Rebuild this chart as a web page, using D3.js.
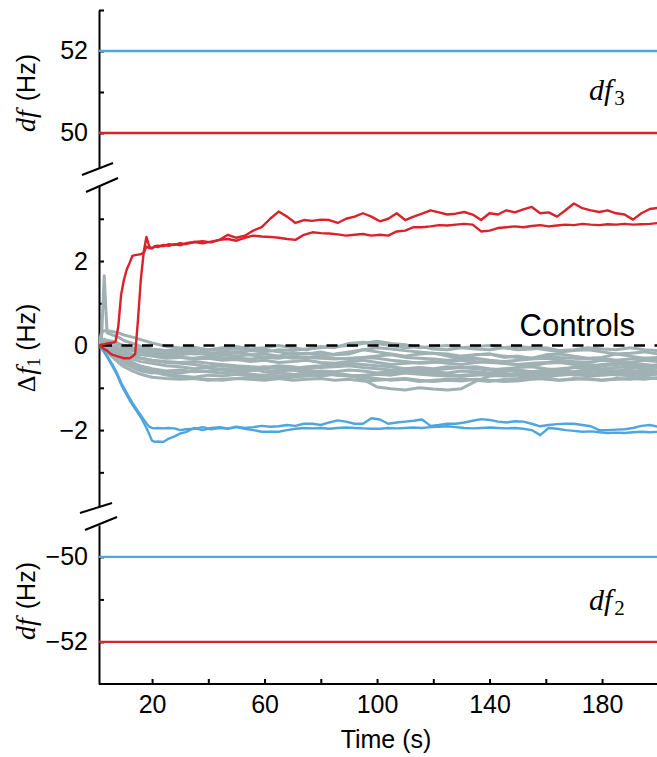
<!DOCTYPE html>
<html>
<head>
<meta charset="utf-8">
<script src="https://cdn.jsdelivr.net/npm/d3@7"></script>
<style>
  html, body { margin: 0; padding: 0; background: #fff; }
  svg { display: block; }
  .axis text { font-family: "Liberation Sans", Arial, Helvetica, sans-serif; font-size: 25px; fill: #000; }
  .axis path, .axis line { stroke: #000; stroke-width: 2; }
</style>
</head>
<body>
<svg id="chart" width="657" height="757"></svg>
<script>
// Time samples (s) for the shifted-frequency traces
const tShift = [1,2,3,4,5,6,7,8,9,10,11,12,13,14,15,16,17,18,19,20,21,22,
  24,26,28,30,32,
  35,38,41,44,47,50,53,56,59,62,65,68,71,74,77,80,83,86,89,92,95,98,101,104,107,110,
  113,116,119,122,125,128,131,134,137,140,143,146,149,152,155,158,161,164,167,170,
  173,176,179,182,185,188,191,194,197,200];

// Δf1 traces, red = df3-shifted, blue = df2-shifted
const redA = [0.0,0.02,0.03,0.05,0.06,0.07,0.09,0.45,1.2,1.55,1.8,1.95,2.12,2.14,2.15,2.16,2.2,2.57,2.35,2.3,2.35,2.36,
  2.35,2.4,2.38,2.42,2.4,
  2.45,2.47,2.44,2.5,2.62,2.55,2.6,2.72,2.8,3.0,
  3.17,3.05,2.9,2.97,2.95,2.98,2.97,2.9,3.0,3.05,
  3.13,3.05,2.94,3.0,3.13,2.97,3.05,3.12,3.2,3.15,
  3.1,3.12,3.16,3.1,2.97,3.13,3.1,3.2,3.15,3.22,
  3.28,3.13,3.15,3.05,3.2,3.36,3.25,3.2,3.16,3.2,
  3.13,3.1,2.98,3.13,3.23,3.26];
const redB = [0.0,-0.04,-0.08,-0.12,-0.18,-0.22,-0.24,-0.26,-0.28,-0.3,-0.3,-0.3,-0.26,-0.2,0.6,1.55,2.18,2.34,2.3,2.3,2.35,2.33,
  2.38,2.36,2.4,2.37,2.42,
  2.45,2.42,2.46,2.5,2.52,2.48,2.55,2.6,2.58,2.57,
  2.55,2.52,2.5,2.62,2.68,2.66,2.65,2.63,2.6,2.62,
  2.64,2.6,2.62,2.6,2.7,2.72,2.8,2.8,2.82,2.85,
  2.84,2.86,2.88,2.86,2.7,2.72,2.78,2.8,2.82,2.8,
  2.83,2.85,2.82,2.84,2.86,2.85,2.88,2.86,2.85,2.87,
  2.86,2.88,2.86,2.87,2.88,2.9];
const blueA = [0.0,-0.06,-0.14,-0.24,-0.35,-0.46,-0.58,-0.72,-0.88,-1.0,-1.12,-1.24,-1.35,-1.45,-1.55,-1.65,-1.75,-1.84,-1.92,-1.95,-1.96,-1.95,
  -1.96,-1.95,-1.96,-2.0,-1.98,
  -1.97,-1.93,-1.98,-1.95,-1.97,-1.93,-1.97,-2.0,-2.04,-2.04,
  -2.04,-2.0,-1.97,-1.95,-1.96,-1.95,-1.97,-1.95,-1.94,-1.95,
  -1.96,-1.97,-1.97,-1.95,-1.96,-1.95,-1.94,-1.95,-1.93,-1.92,
  -1.91,-1.93,-1.95,-1.96,-1.95,-1.94,-1.95,-1.96,-1.95,-1.97,
  -2.0,-2.12,-1.95,-1.97,-2.0,-2.02,-2.04,-2.03,-2.05,-2.07,
  -2.06,-2.07,-2.05,-2.04,-2.05,-2.04];
const blueB = [0.0,-0.07,-0.16,-0.27,-0.38,-0.5,-0.62,-0.76,-0.92,-1.05,-1.17,-1.29,-1.4,-1.5,-1.6,-1.7,-1.82,-1.95,-2.1,-2.25,-2.28,-2.27,
  -2.28,-2.2,-2.15,-2.08,-2.05,
  -1.95,-2.0,-1.95,-1.93,-1.96,-1.92,-1.95,-1.93,-1.9,-1.92,
  -1.91,-1.88,-1.9,-1.85,-1.85,-1.88,-1.82,-1.77,-1.8,-1.85,
  -1.85,-1.72,-1.75,-1.85,-1.82,-1.8,-1.78,-1.75,-1.9,-1.88,
  -1.85,-1.85,-1.82,-1.78,-1.74,-1.76,-1.8,-1.82,-1.79,-1.8,
  -1.85,-1.91,-1.88,-1.86,-1.85,-1.85,-1.88,-1.91,-2.0,-2.0,
  -1.99,-1.98,-1.95,-1.9,-1.88,-1.92];

// Time samples (s) for the control traces
const tCtrl = [1,2,3,4,6,8,10,13,16,20,
  25,30,35,40,45,50,55,60,65,70,75,80,85,90,95,100,105,110,115,120,
  125,130,135,140,145,150,155,160,165,170,175,180,185,190,195,200];

const ctrl01 = [0,0.1,1.65,0.3,0.25,0.2,0.12,0.05,-0.02,-0.08,
  -0.12,-0.15,-0.1,-0.18,-0.2,-0.15,-0.22,-0.2,-0.25,-0.18,
  -0.2,-0.15,-0.22,-0.2,-0.1,-0.15,-0.2,-0.25,-0.2,-0.18,
  -0.25,-0.3,-0.22,-0.2,-0.28,-0.25,-0.3,-0.22,-0.2,-0.25,
  -0.3,-0.28,-0.2,-0.25,-0.3,-0.28];
const ctrl02 = [0,0.3,0.35,0.35,0.33,0.3,0.25,0.2,0.14,0.06,
  -0.02,-0.06,-0.04,-0.1,-0.05,-0.02,-0.08,-0.05,0.0,-0.05,
  -0.1,-0.02,-0.05,0.05,0.08,0.05,0.0,-0.05,-0.02,-0.08,
  -0.1,-0.05,-0.02,0.0,-0.05,-0.1,-0.08,-0.05,-0.12,-0.1,
  -0.05,-0.08,-0.1,-0.05,-0.1,-0.12];
const ctrl03 = [0,0.0,-0.02,-0.05,-0.1,-0.12,-0.15,-0.2,-0.22,-0.25,
  -0.3,-0.28,-0.32,-0.3,-0.35,-0.33,-0.38,-0.35,-0.4,-0.38,
  -0.35,-0.4,-0.42,-0.38,-0.35,-0.4,-0.45,-0.42,-0.4,-0.38,
  -0.42,-0.45,-0.4,-0.38,-0.42,-0.45,-0.48,-0.42,-0.4,-0.45,
  -0.5,-0.45,-0.42,-0.48,-0.5,-0.45];
const ctrl04 = [0,-0.02,-0.05,-0.08,-0.15,-0.2,-0.25,-0.32,-0.38,-0.42,
  -0.48,-0.5,-0.55,-0.52,-0.58,-0.6,-0.55,-0.62,-0.6,-0.58,
  -0.65,-0.6,-0.62,-0.58,-0.6,-0.65,-0.62,-0.6,-0.58,-0.62,
  -0.65,-0.6,-0.62,-0.65,-0.6,-0.58,-0.62,-0.65,-0.6,-0.62,
  -0.58,-0.6,-0.65,-0.62,-0.6,-0.62];
const ctrl05 = [0,-0.03,-0.08,-0.15,-0.28,-0.4,-0.5,-0.6,-0.68,-0.75,
  -0.78,-0.8,-0.78,-0.82,-0.8,-0.78,-0.75,-0.8,-0.78,-0.82,
  -0.8,-0.78,-0.82,-0.8,-0.84,-0.82,-0.8,-0.78,-0.82,-0.85,
  -0.82,-0.84,-0.8,-0.82,-0.85,-0.84,-0.8,-0.78,-0.82,-0.8,
  -0.78,-0.82,-0.8,-0.78,-0.8,-0.76];
const ctrl06 = [0,-0.02,-0.04,-0.06,-0.1,-0.15,-0.2,-0.25,-0.3,-0.35,
  -0.4,-0.42,-0.45,-0.5,-0.48,-0.52,-0.55,-0.5,-0.55,-0.58,
  -0.6,-0.62,-0.65,-0.7,-0.8,-0.98,-1.02,-1.05,-1.0,-1.03,
  -1.05,-1.02,-0.85,-0.72,-0.7,-0.65,-0.68,-0.62,-0.6,-0.65,
  -0.62,-0.58,-0.6,-0.62,-0.58,-0.6];
const ctrl07 = [0,0.02,0.0,-0.02,-0.05,-0.08,-0.1,-0.12,-0.15,-0.18,
  -0.2,-0.22,-0.18,-0.2,-0.15,-0.18,-0.12,-0.15,-0.1,-0.12,
  -0.08,-0.05,-0.02,0.0,0.05,0.1,0.05,0.02,-0.05,-0.02,
  0.0,-0.05,-0.08,-0.1,-0.05,-0.02,-0.05,-0.1,-0.15,-0.12,
  -0.1,-0.15,-0.2,-0.18,-0.15,-0.2];
const ctrl08 = [0,-0.01,-0.03,-0.05,-0.08,-0.12,-0.18,-0.25,-0.3,-0.35,
  -0.38,-0.4,-0.38,-0.42,-0.45,-0.48,-0.5,-0.52,-0.48,-0.5,
  -0.55,-0.52,-0.5,-0.48,-0.52,-0.55,-0.58,-0.55,-0.52,-0.55,
  -0.5,-0.52,-0.55,-0.58,-0.55,-0.52,-0.5,-0.55,-0.58,-0.52,
  -0.5,-0.55,-0.52,-0.5,-0.55,-0.52];
const ctrl09 = [0,0.05,0.08,0.05,0.0,-0.05,-0.08,-0.12,-0.15,-0.2,
  -0.25,-0.28,-0.3,-0.25,-0.28,-0.3,-0.32,-0.28,-0.3,-0.25,
  -0.28,-0.3,-0.32,-0.3,-0.28,-0.25,-0.22,-0.28,-0.3,-0.32,
  -0.35,-0.32,-0.3,-0.35,-0.38,-0.35,-0.32,-0.3,-0.35,-0.38,
  -0.4,-0.35,-0.38,-0.4,-0.35,-0.38];
const ctrl10 = [0,-0.02,-0.06,-0.12,-0.22,-0.32,-0.42,-0.52,-0.6,-0.65,
  -0.62,-0.65,-0.6,-0.62,-0.65,-0.62,-0.68,-0.7,-0.65,-0.68,
  -0.7,-0.72,-0.68,-0.7,-0.72,-0.68,-0.7,-0.65,-0.68,-0.7,
  -0.72,-0.7,-0.68,-0.7,-0.72,-0.7,-0.68,-0.7,-0.65,-0.7,
  -0.68,-0.65,-0.7,-0.68,-0.65,-0.62];
const ctrl11 = [0,0.1,0.15,0.12,0.08,0.02,-0.02,-0.08,-0.12,-0.15,
  -0.18,-0.15,-0.2,-0.18,-0.22,-0.25,-0.22,-0.28,-0.25,-0.3,
  -0.28,-0.25,-0.3,-0.32,-0.28,-0.3,-0.35,-0.38,-0.42,-0.4,
  -0.38,-0.35,-0.38,-0.4,-0.42,-0.45,-0.42,-0.4,-0.38,-0.42,
  -0.45,-0.48,-0.45,-0.42,-0.45,-0.48];
const ctrl12 = [0,-0.03,-0.08,-0.12,-0.2,-0.28,-0.35,-0.42,-0.48,-0.55,
  -0.6,-0.58,-0.62,-0.6,-0.55,-0.58,-0.6,-0.55,-0.52,-0.55,
  -0.5,-0.48,-0.45,-0.42,-0.45,-0.48,-0.5,-0.55,-0.6,-0.58,
  -0.55,-0.52,-0.5,-0.55,-0.58,-0.6,-0.62,-0.58,-0.55,-0.52,
  -0.55,-0.58,-0.6,-0.55,-0.5,-0.52];
const ctrl13 = [0,-0.02,-0.04,-0.08,-0.15,-0.22,-0.3,-0.4,-0.5,-0.6,
  -0.68,-0.72,-0.75,-0.7,-0.72,-0.68,-0.7,-0.75,-0.72,-0.7,
  -0.68,-0.65,-0.7,-0.72,-0.75,-0.78,-0.82,-0.8,-0.85,-0.82,
  -0.8,-0.78,-0.82,-0.85,-0.8,-0.78,-0.75,-0.8,-0.82,-0.78,
  -0.8,-0.82,-0.78,-0.8,-0.75,-0.78];
const ctrl14 = [0,0.05,0.1,0.12,0.1,0.05,0.0,-0.05,-0.08,-0.1,
  -0.12,-0.1,-0.15,-0.12,-0.1,-0.08,-0.12,-0.1,-0.15,-0.2,
  -0.18,-0.22,-0.2,-0.15,-0.1,-0.05,-0.08,-0.12,-0.15,-0.18,
  -0.2,-0.25,-0.22,-0.2,-0.25,-0.28,-0.3,-0.25,-0.28,-0.3,
  -0.32,-0.3,-0.35,-0.32,-0.3,-0.35];
const ctrl15 = [0,-0.01,-0.05,-0.1,-0.18,-0.28,-0.38,-0.48,-0.55,-0.62,
  -0.7,-0.75,-0.78,-0.8,-0.82,-0.78,-0.8,-0.82,-0.78,-0.75,
  -0.72,-0.7,-0.68,-0.72,-0.7,-0.68,-0.65,-0.6,-0.62,-0.65,
  -0.68,-0.72,-0.7,-0.68,-0.65,-0.7,-0.72,-0.75,-0.7,-0.68,
  -0.72,-0.7,-0.68,-0.72,-0.7,-0.68];
const controls = [ctrl01,ctrl02,ctrl03,ctrl04,ctrl05,ctrl06,ctrl07,ctrl08,
  ctrl09,ctrl10,ctrl11,ctrl12,ctrl13,ctrl14,ctrl15];

// Imposed frequency differences (Hz)
const df3Levels = [52, 50];    // top panel: blue, red
const df2Levels = [-50, -52];  // bottom panel: blue, red

// Ticks
const xTicks = [20,40,60,80,100,120,140,160,180];
const xTickLabels = [20,60,100,140,180];
const topTicks = [50,51,52,53];
const topTickLabels = [50,52];
const midTicks = [-3,-2,-1,0,1,2,3];
const midTickLabels = [-2,0,2];
const botTicks = [-52,-51,-50];
const botTickLabels = [-52,-50];

const BLUE = "#4fa6de", RED = "#d9222b", GRAY = "#a0b1b3";

const svg = d3.select("#chart");
const x0 = 99, x1 = 657;
const x = d3.scaleLinear().domain([1, 200]).range([98.6, 658.3]);
const yTop = d3.scaleLinear().domain([49.146, 53]).range([168, 10]);
const yMid = d3.scaleLinear().domain([-3.82, 3.775]).range([507, 186]);
const yBot = d3.scaleLinear().domain([-52.99, -49.25]).range([684, 525]);

const fmt = labels => d => labels.includes(d) ? d3.format("d")(d) : "";

function yAxis(scale, ticks, labels) {
  return svg.append("g").attr("class", "axis").attr("transform", `translate(${x0},0)`)
    .call(d3.axisLeft(scale).tickValues(ticks).tickSize(-5).tickSizeOuter(0).tickPadding(11).tickFormat(fmt(labels)));
}
yAxis(yTop, topTicks, topTickLabels);
yAxis(yMid, midTicks, midTickLabels);
yAxis(yBot, botTicks, botTickLabels);

svg.append("g").attr("class", "axis").attr("transform", `translate(0,684)`)
  .call(d3.axisBottom(x).tickValues(xTicks).tickSize(-5).tickSizeOuter(0).tickPadding(11).tickFormat(fmt(xTickLabels)))
  .call(g => g.select(".domain").attr("d", `M${x0},0H${x1}`));

// axis break marks
const breaks = [[82,175,113,163],[86,192,118,178],[80,513,112,503],[85,530,117,517]];
svg.append("g").selectAll("line").data(breaks).join("line")
  .attr("x1", d => d[0]).attr("y1", d => d[1]).attr("x2", d => d[2]).attr("y2", d => d[3])
  .attr("stroke", "#000").attr("stroke-width", 2);

// constant frequency differences
svg.append("g").selectAll("line").data(df3Levels).join("line")
  .attr("x1", x0).attr("x2", x1).attr("y1", d => yTop(d)).attr("y2", d => yTop(d))
  .attr("stroke", (d, i) => i === 0 ? BLUE : RED).attr("stroke-width", 2.4);
svg.append("g").selectAll("line").data(df2Levels).join("line")
  .attr("x1", x0).attr("x2", x1).attr("y1", d => yBot(d)).attr("y2", d => yBot(d))
  .attr("stroke", (d, i) => i === 0 ? BLUE : RED).attr("stroke-width", 2.4);

// middle panel traces
svg.append("clipPath").attr("id", "plotclip").append("rect")
  .attr("x", x0).attr("y", 186).attr("width", x1 - x0).attr("height", 321);
const plot = svg.append("g").attr("clip-path", "url(#plotclip)");

const lineCtrl = d3.line().x((d, i) => x(tCtrl[i])).y(d => yMid(d));
const lineShift = d3.line().x((d, i) => x(tShift[i])).y(d => yMid(d));

plot.append("g").selectAll("path").data(controls).join("path")
  .attr("d", lineCtrl).attr("fill", "none").attr("stroke", GRAY)
  .attr("stroke-width", 3).attr("stroke-linejoin", "round");

plot.append("line").attr("x1", x0 + 2).attr("x2", x1).attr("y1", yMid(0)).attr("y2", yMid(0))
  .attr("stroke", "#000").attr("stroke-width", 2.5).attr("stroke-dasharray", "11,9.5");

plot.append("g").selectAll("path").data([blueA, blueB]).join("path")
  .attr("d", lineShift).attr("fill", "none").attr("stroke", BLUE)
  .attr("stroke-width", 2.4).attr("stroke-linejoin", "round");
plot.append("g").selectAll("path").data([redA, redB]).join("path")
  .attr("d", lineShift).attr("fill", "none").attr("stroke", RED)
  .attr("stroke-width", 2.4).attr("stroke-linejoin", "round");

const serif = "'Liberation Serif', 'Times New Roman', serif";
const sans = "'Liberation Sans', Arial, sans-serif";

svg.append("text").attr("x", 635).attr("y", 336).attr("text-anchor", "end")
  .style("font-family", sans).style("font-size", "31px").text("Controls");

// panel labels df3 / df2
function dfLabel(xp, yp, sub) {
  const t = svg.append("text").attr("x", xp).attr("y", yp).style("font-family", serif);
  t.append("tspan").style("font-style", "italic").style("font-size", "30px").text("df");
  t.append("tspan").attr("dx", 2).attr("dy", 5).style("font-size", "21px").text(sub);
}
dfLabel(589, 100, "3");
dfLabel(589, 610, "2");

// y-axis titles
function yTitle(cy, parts) {
  const t = svg.append("text").attr("transform", `translate(35,${cy}) rotate(-90)`)
    .attr("text-anchor", "middle");
  parts.forEach(p => {
    const s = t.append("tspan").text(p.text).style("font-family", p.serif ? serif : sans)
      .style("font-size", p.size + "px");
    if (p.italic) s.style("font-style", "italic");
    if (p.dy) s.attr("dy", p.dy);
    if (p.dx) s.attr("dx", p.dx);
  });
}
yTitle(93, [{text: "df", serif: true, italic: true, size: 28}, {text: "(Hz)", size: 25, dx: 9}]);
yTitle(348, [{text: "Δ", serif: true, size: 26}, {text: "f", serif: true, italic: true, size: 28, dx: 1},
  {text: "1", serif: true, size: 18, dy: 5}, {text: "(Hz)", size: 25, dx: 7, dy: -5}]);
yTitle(601, [{text: "df", serif: true, italic: true, size: 28}, {text: "(Hz)", size: 25, dx: 9}]);

// x-axis title
svg.append("text").attr("x", 386).attr("y", 748).attr("text-anchor", "middle")
  .style("font-family", sans).style("font-size", "25px").text("Time (s)");
</script>
</body>
</html>
